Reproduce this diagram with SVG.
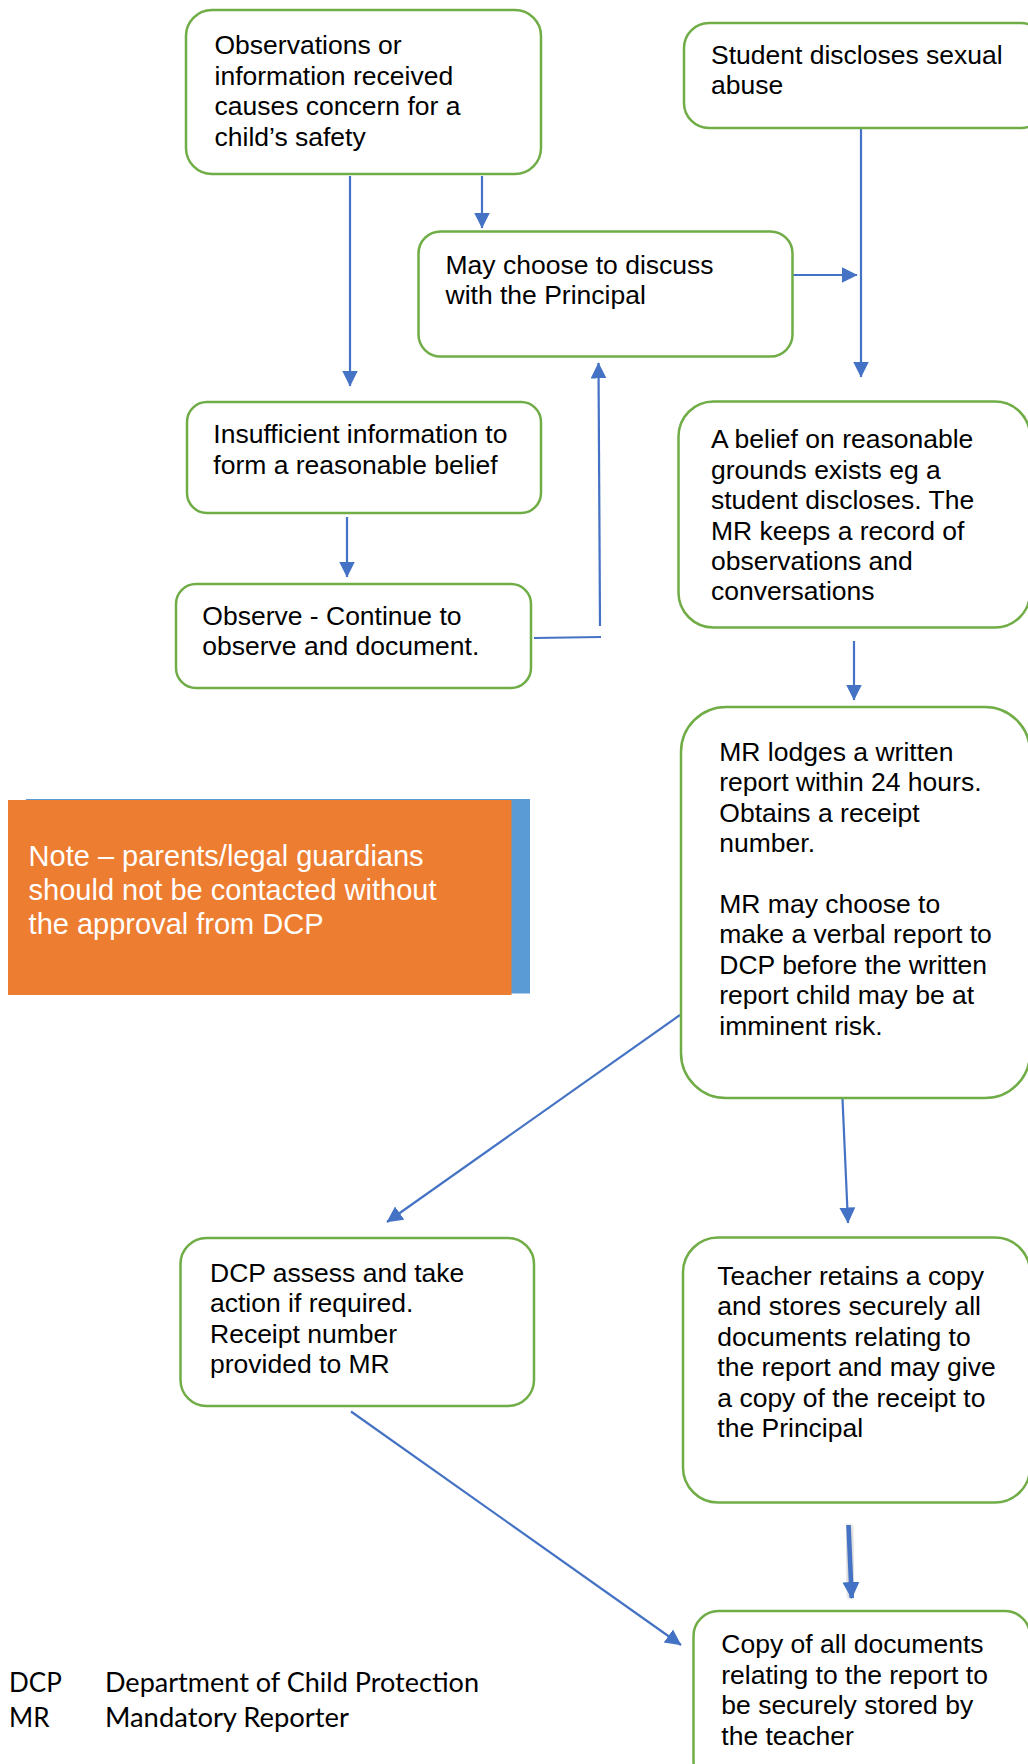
<svg xmlns="http://www.w3.org/2000/svg" width="1028" height="1764" viewBox="0 0 1028 1764">
  <style>
    .box { fill: #ffffff; stroke: #70AD47; stroke-width: 2.5; }
    .t { font-family: "Liberation Sans", Arial, sans-serif; font-size: 26.5px; fill: #000000; }
    .note { font-family: "Liberation Sans", Arial, sans-serif; font-size: 29px; fill: #ffffff; }
    .leg { font-family: Lato, "Liberation Sans", sans-serif; font-size: 26px; fill: #000000; }
    .c { stroke: #4472C4; stroke-width: 2.2; fill: none; }
    .thick { stroke: #4472C4; stroke-width: 4.5; fill: none; }
  </style>
  <defs>
    <marker id="arr" markerUnits="userSpaceOnUse" markerWidth="17" markerHeight="17" refX="15.5" refY="8" orient="auto">
      <path d="M0,0 L16,8 L0,16 z" fill="#4472C4"/>
    </marker>
    <marker id="arrT" markerUnits="userSpaceOnUse" markerWidth="18" markerHeight="18" refX="16" refY="8.5" orient="auto">
      <path d="M0,0 L17,8.5 L0,17 z" fill="#4472C4"/>
    </marker>
    <filter id="blur" x="-50%" y="-10%" width="200%" height="120%">
      <feGaussianBlur stdDeviation="1.6"/>
    </filter>
  </defs>

  <rect width="1028" height="1764" fill="#ffffff"/>

  <!-- Connectors -->
  <g id="connectors">
    <line class="c" x1="350" y1="176" x2="350" y2="386" marker-end="url(#arr)"/>
    <line class="c" x1="482" y1="176" x2="482" y2="228" marker-end="url(#arr)"/>
    <line class="c" x1="861" y1="128" x2="861" y2="377" marker-end="url(#arr)"/>
    <line class="c" x1="789" y1="275" x2="857" y2="275" marker-end="url(#arr)"/>
    <line class="c" x1="347" y1="517" x2="347" y2="577" marker-end="url(#arr)"/>
    <line class="c" x1="534" y1="638" x2="601" y2="637"/>
    <line class="c" x1="600" y1="626" x2="598.5" y2="363" marker-end="url(#arr)"/>
    <line class="c" x1="854" y1="641" x2="854" y2="700" marker-end="url(#arr)"/>
    <line class="c" x1="680" y1="1015" x2="387" y2="1222" marker-end="url(#arr)"/>
    <line class="c" x1="842.5" y1="1099" x2="848" y2="1223" marker-end="url(#arr)"/>
    <line class="c" x1="351" y1="1411.5" x2="681" y2="1645" marker-end="url(#arr)"/>
    <line x1="848.5" y1="1525" x2="851.7" y2="1598" stroke="#9a9a9a" stroke-width="8" opacity="0.45" filter="url(#blur)"/>
    <line class="thick" x1="848.5" y1="1525" x2="851.7" y2="1598" marker-end="url(#arrT)"/>
  </g>

  <!-- Nodes -->
  <g id="node-observations">
    <rect class="box" x="186" y="10" width="355" height="164" rx="26" ry="26"/>
    <text class="t">
      <tspan x="214.5" y="54.3">Observations or</tspan>
      <tspan x="214.5" y="84.7">information received</tspan>
      <tspan x="214.5" y="115.1">causes concern for a</tspan>
      <tspan x="214.5" y="145.5">child’s safety</tspan>
    </text>
  </g>

  <g id="node-student-discloses">
    <rect class="box" x="684" y="23" width="362" height="105" rx="25" ry="25"/>
    <text class="t">
      <tspan x="711" y="64">Student discloses sexual</tspan>
      <tspan x="711" y="94.4">abuse</tspan>
    </text>
  </g>

  <g id="node-principal">
    <rect class="box" x="418.5" y="231.5" width="374" height="125" rx="22" ry="22"/>
    <text class="t">
      <tspan x="445.5" y="274">May choose to discuss</tspan>
      <tspan x="445.5" y="304.4">with the Principal</tspan>
    </text>
  </g>

  <g id="node-insufficient">
    <rect class="box" x="187" y="402" width="354" height="111" rx="20" ry="20"/>
    <text class="t">
      <tspan x="213.3" y="443.3">Insufficient information to</tspan>
      <tspan x="213.3" y="473.7">form a reasonable belief</tspan>
    </text>
  </g>

  <g id="node-observe">
    <rect class="box" x="176" y="584" width="355" height="104" rx="20" ry="20"/>
    <text class="t">
      <tspan x="202.3" y="625">Observe - Continue to</tspan>
      <tspan x="202.3" y="655.4">observe and document.</tspan>
    </text>
  </g>

  <g id="node-belief">
    <rect class="box" x="678.5" y="401.5" width="351.5" height="226" rx="35" ry="35"/>
    <text class="t">
      <tspan x="711" y="448.3">A belief on reasonable</tspan>
      <tspan x="711" y="478.7">grounds exists eg a</tspan>
      <tspan x="711" y="509.1">student discloses. The</tspan>
      <tspan x="711" y="539.5">MR keeps a record of</tspan>
      <tspan x="711" y="569.9">observations and</tspan>
      <tspan x="711" y="600.3">conversations</tspan>
    </text>
  </g>

  <g id="node-mr-lodges">
    <rect class="box" x="681" y="707" width="349" height="391" rx="45" ry="45"/>
    <text class="t">
      <tspan x="719.3" y="761">MR lodges a written</tspan>
      <tspan x="719.3" y="791.4">report within 24 hours.</tspan>
      <tspan x="719.3" y="821.8">Obtains a receipt</tspan>
      <tspan x="719.3" y="852.2">number.</tspan>
      <tspan x="719.3" y="913">MR may choose to</tspan>
      <tspan x="719.3" y="943.4">make a verbal report to</tspan>
      <tspan x="719.3" y="973.8">DCP before the written</tspan>
      <tspan x="719.3" y="1004.2">report child may be at</tspan>
      <tspan x="719.3" y="1034.6">imminent risk.</tspan>
    </text>
  </g>

  <g id="node-note">
    <rect x="26" y="799" width="504" height="194.5" fill="#5B9BD5"/>
    <rect x="8" y="800" width="503.5" height="195" fill="#ED7D31"/>
    <text class="note">
      <tspan x="28.6" y="866">Note – parents/legal guardians</tspan>
      <tspan x="28.6" y="900">should not be contacted without</tspan>
      <tspan x="28.6" y="934">the approval from DCP</tspan>
    </text>
  </g>

  <g id="node-dcp-assess">
    <rect class="box" x="180.5" y="1238" width="353.5" height="168" rx="26" ry="26"/>
    <text class="t">
      <tspan x="210" y="1281.7">DCP assess and take</tspan>
      <tspan x="210" y="1312.1">action if required.</tspan>
      <tspan x="210" y="1342.5">Receipt number</tspan>
      <tspan x="210" y="1372.9">provided to MR</tspan>
    </text>
  </g>

  <g id="node-teacher">
    <rect class="box" x="683" y="1237.5" width="347" height="265" rx="35" ry="35"/>
    <text class="t">
      <tspan x="717.3" y="1285">Teacher retains a copy</tspan>
      <tspan x="717.3" y="1315.4">and stores securely all</tspan>
      <tspan x="717.3" y="1345.8">documents relating to</tspan>
      <tspan x="717.3" y="1376.2">the report and may give</tspan>
      <tspan x="717.3" y="1406.6">a copy of the receipt to</tspan>
      <tspan x="717.3" y="1437">the Principal</tspan>
    </text>
  </g>

  <g id="node-copy">
    <rect class="box" x="693.5" y="1611" width="336.5" height="175" rx="25" ry="25"/>
    <text class="t">
      <tspan x="721.3" y="1653.3">Copy of all documents</tspan>
      <tspan x="721.3" y="1683.7">relating to the report to</tspan>
      <tspan x="721.3" y="1714.1">be securely stored by</tspan>
      <tspan x="721.3" y="1744.5">the teacher</tspan>
    </text>
  </g>

  <g id="legend">
    <text class="leg" x="9" y="1692">DCP</text>
    <text class="leg" x="105" y="1692" textLength="374" lengthAdjust="spacingAndGlyphs">Department of Child Protection</text>
    <text class="leg" x="9" y="1727">MR</text>
    <text class="leg" x="105" y="1727" textLength="244" lengthAdjust="spacingAndGlyphs">Mandatory Reporter</text>
  </g>
</svg>
